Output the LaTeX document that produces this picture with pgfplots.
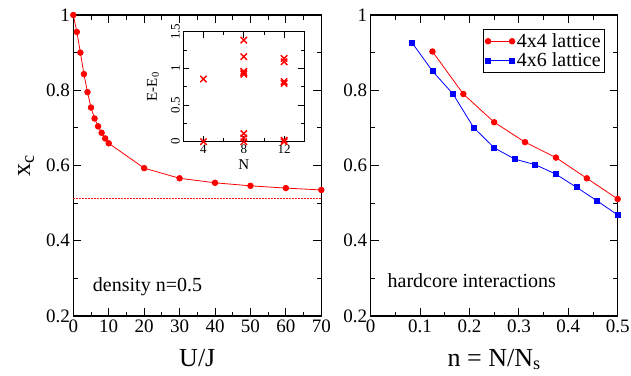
\documentclass[border=0pt]{standalone}
\usepackage{fontspec}
\setmainfont{Liberation Serif}
\usepackage{pgfplots}
\pgfplotsset{compat=1.18}
\begin{document}
\begin{tikzpicture}
\useasboundingbox (0pt,0pt) rectangle (631pt,375pt);
\pgfplotsset{
  myaxis/.style={
    scale only axis, width=248pt, height=301pt,
    axis line style={line width=1.1pt, black},
    every tick/.style={black, line width=0.9pt},
    major tick length=8pt, minor tick length=4.5pt,
    ymin=0.2, ymax=1, ytick={0.2,0.4,0.6,0.8,1}, minor y tick num=1,
    /pgf/number format/assume math mode=true,
    tick label style={font=\fontsize{19}{19}\selectfont},
    every axis x label/.style={at={(axis description cs:0.5,0)}, anchor=base, yshift=-50pt, font=\fontsize{26}{26}\selectfont},
    every axis y label/.style={at={(axis description cs:-0.19,0.5)}, anchor=center, rotate=90, font=\fontsize{26}{26}\selectfont},
  }
}
% left panel
\begin{axis}[myaxis, at={(73.3pt,59pt)}, anchor=south west,
  xmin=0, xmax=70, xtick={0,10,20,30,40,50,60,70}, minor x tick num=1,
  xlabel={U/J}, ylabel={x\textsubscript{c}}]
\addplot[draw=red, color=red, dotted, line width=1pt, line cap=round, mark=none] coordinates {(0,0.511) (70,0.511)};
\addplot[red, line width=0.8pt, mark=*, mark size=2.8pt] coordinates {
(0,1.0) (1,0.955) (2,0.90) (3,0.843) (4,0.795) (5,0.754) (6,0.725) (7,0.704) (8,0.687) (9,0.672) (10,0.659)
(20,0.593) (30,0.566) (40,0.554) (50,0.546) (60,0.540) (70,0.535)};
\node[anchor=base west, font=\fontsize{20}{20}\selectfont, inner sep=0pt] at (axis cs:5.5,0.265) {density n=0.5};
\end{axis}
% inset
\begin{axis}[at={(183.3pt,233.3pt)}, anchor=south west, scale only axis, width=121pt, height=110pt,
  xmin=2, xmax=14, ymin=0, ymax=1.5,
  xtick={4,8,12}, minor xtick={6,10}, ytick={0,0.5,1,1.5}, minor ytick={0.25,0.75,1.25},
  axis line style={line width=1pt, black},
  every tick/.style={black, line width=0.8pt},
  major tick length=6pt, minor tick length=3.5pt,
  /pgf/number format/assume math mode=true,
  tick label style={font=\fontsize{13}{13}\selectfont},
  yticklabel style={rotate=90, anchor=south},
  xlabel={N}, ylabel={E-E\textsubscript{0}},
  every axis x label/.style={at={(axis description cs:0.5,-0.21)}, anchor=center, font=\fontsize{15}{15}\selectfont},
  every axis y label/.style={at={(axis description cs:-0.25,0.5)}, anchor=center, rotate=90, font=\fontsize{15}{15}\selectfont},
  axis background/.style={fill=white}]
\addplot[red, only marks, mark=x, mark size=4.5pt, line width=1.4pt] coordinates {
(4,0) (4,0.855)
(8,0) (8,0.05) (8,0.11) (8,0.92) (8,0.94) (8,0.96) (8,1.16) (8,1.385)
(12,0) (12,0.02) (12,0.795) (12,0.82) (12,1.09) (12,1.135)};
\end{axis}
% right panel
\begin{axis}[myaxis, at={(370.7pt,59pt)}, anchor=south west, width=247pt,
  xmin=0, xmax=0.5, xtick={0,0.1,0.2,0.3,0.4,0.5}, minor x tick num=1,
  xlabel={n = N/N\textsubscript{s}},
  legend style={at={(0.949,0.953)}, anchor=north east, font=\fontsize{20}{20}\selectfont, draw=black, line width=0.8pt, inner sep=2pt, row sep=0pt},
  legend cell align=left,
  legend image code/.code={\draw plot coordinates {(0pt,0pt) (24pt,0pt)};}]
\addplot[red, line width=0.8pt, mark=*, mark size=2.8pt] coordinates {
(0.125,0.903) (0.1875,0.790) (0.25,0.715) (0.3125,0.662) (0.375,0.621) (0.4375,0.566) (0.5,0.511)};
\addlegendentry{4x4 lattice}
\addplot[blue, line width=0.8pt, mark=square*, mark size=2.5pt] coordinates {
(0.08333,0.927) (0.125,0.851) (0.16667,0.790) (0.20833,0.701) (0.25,0.647) (0.29167,0.617) (0.33333,0.602)
(0.375,0.577) (0.41667,0.542) (0.45833,0.506) (0.5,0.4685)};
\addlegendentry{4x6 lattice}
\node[anchor=base west, font=\fontsize{20}{20}\selectfont, inner sep=0pt] at (axis cs:0.034,0.277) {hardcore interactions};
\end{axis}
\end{tikzpicture}
\end{document}
